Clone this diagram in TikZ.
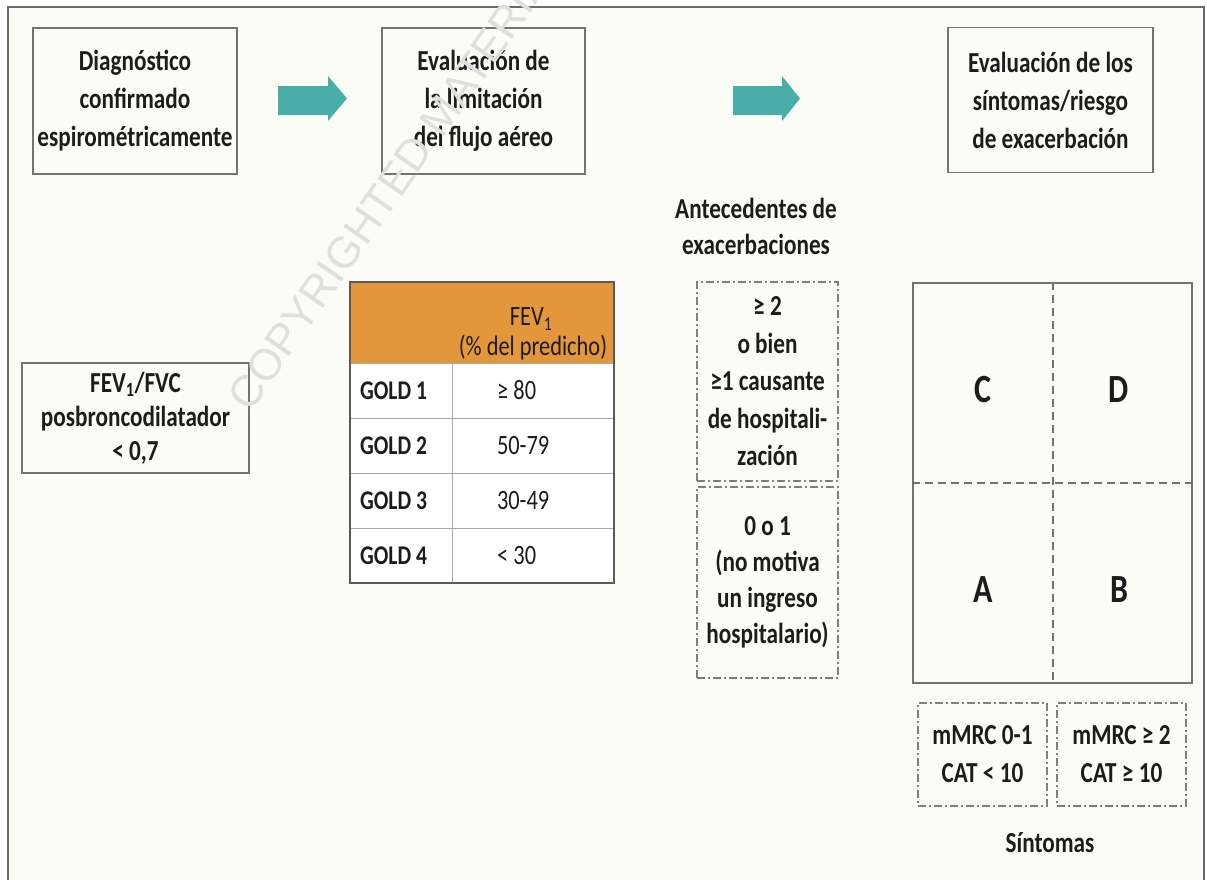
\documentclass[tikz,border=0pt]{standalone}
\usepackage{fontspec}
\setmainfont{Carlito}[FakeStretch=0.8]
\newfontfamily\wmfont{Liberation Sans}
\usetikzlibrary{calc}

\definecolor{framegray}{HTML}{6A6A6A}
\definecolor{boxgray}{HTML}{737373}
\definecolor{pagebg}{HTML}{FCFCF7}
\definecolor{arrowteal}{HTML}{4AAEA8}
\definecolor{headorange}{HTML}{E3963A}
\definecolor{inkdark}{HTML}{1C1C1C}
\definecolor{rulegray}{HTML}{A8A8A8}
\definecolor{tableedge}{HTML}{5A5A5A}
\definecolor{dashgray}{HTML}{7E7E7E}

% tighter gap before a narrow tabular digit or symbol
\newcommand{\tgap}{\hspace{-4pt} }

\tikzset{
  boldtxt/.style={font=\fontsize{29}{38}\selectfont\bfseries, text=inkdark, align=center},
  stagebox/.style={boldtxt, draw=boxgray, line width=1.8pt, inner sep=0pt},
  dashdotbox/.style={boldtxt, draw=dashgray, line width=1.4pt, inner sep=0pt,
    dash pattern=on 8pt off 3pt on 2pt off 3pt},
  blockarrow/.style={fill=arrowteal},
  headcell/.style={fill=headorange, draw=none, inner sep=0pt},
  labelcell/.style={draw=rulegray, line width=0.9pt, fill=white, inner xsep=10pt, inner ysep=0pt,
    minimum width=102pt, text width=82pt, align=left,
    font=\fontsize{27}{30}\selectfont\bfseries, text=inkdark},
  valuecell/.style={draw=rulegray, line width=0.9pt, fill=white, inner xsep=45pt, inner ysep=0pt,
    minimum width=162pt, text width=72pt, align=left,
    font=\fontsize{28}{30}\selectfont, text=inkdark},
  quadletter/.style={font=\fontsize{40}{40}\selectfont\bfseries, text=inkdark},
  quadline/.style={draw=dashgray!90!black, line width=2pt, dash pattern=on 8pt off 5pt},
}

\begin{document}
\begin{tikzpicture}[x=1pt, y=-1pt]
  \useasboundingbox (0,0) rectangle (1207,879);
  \clip (0,0) rectangle (1207,879);
  \fill[white] (0,0) rectangle (1207,879);

  % page frame
  \fill[pagebg] (8,7) rectangle (1204,885);
  \draw[framegray, line width=2.5pt] (8,885) -- (8,7) -- (1204,7) -- (1204,885);

  % top row of stages
  \node[stagebox, minimum width=204pt, minimum height=146pt] (diag) at (135,101)
    {Diagnóstico\\confirmado\\espirométricamente};
  \node[stagebox, minimum width=203pt, minimum height=146pt] (flujo) at (483.5,101)
    {Evaluación de\\la limitación\\del flujo aéreo};
  \node[stagebox, minimum width=205pt, minimum height=145pt] (sint) at (1050.5,100)
    {Evaluación de los\\síntomas/riesgo\\de exacerbación};

  % block arrows between stages
  \coordinate (a1) at (278,100.5);
  \coordinate (a2) at (733,100.5);
  \fill[blockarrow] (a1) ++(0,-14.5) -- ++(50,0) -- ++(0,-10) -- ++(19,22.5)
    -- ++(-19,22.5) -- ++(0,-6) -- ++(-50,0) -- cycle;
  \fill[blockarrow] (a2) ++(0,-14.5) -- ++(49,0) -- ++(0,-10) -- ++(18,22.5)
    -- ++(-18,22.5) -- ++(0,-6) -- ++(-49,0) -- cycle;

  % spirometric criterion
  \node[stagebox, line width=1.6pt, minimum width=227pt, minimum height=110pt,
        font=\fontsize{29}{34}\selectfont\bfseries] (ratio) at (135.5,418)
    {FEV\textsubscript{1}/FVC\\posbroncodilatador\\< 0,7};

  % GOLD table
  \node[headcell, minimum width=264pt, minimum height=81pt] (thead) at (482,322.5) {};
  \node[font=\fontsize{28}{28}\selectfont, text=inkdark] (tfev) at (531,319) {FEV\textsubscript{1}};
  \node[font=\fontsize{28}{28}\selectfont, text=inkdark] (tpred) at (533,348) {(\% del predicho)};

  \node[labelcell, minimum height=55pt] (g1) at (401,390.5) {\mbox{GOLD\tgap 1}};
  \node[labelcell, minimum height=55pt] (g2) at (401,445.5) {\mbox{GOLD\tgap 2}};
  \node[labelcell, minimum height=55pt] (g3) at (401,500.5) {\mbox{GOLD\tgap 3}};
  \node[labelcell, minimum height=55pt] (g4) at (401,555.5) {\mbox{GOLD\tgap 4}};
  \node[valuecell, minimum height=55pt] (v1) at (533,390.5) {\mbox{≥\tgap 80}};
  \node[valuecell, minimum height=55pt] (v2) at (533,445.5) {\mbox{50-79}};
  \node[valuecell, minimum height=55pt] (v3) at (533,500.5) {\mbox{30-49}};
  \node[valuecell, minimum height=55pt] (v4) at (533,555.5) {\mbox{<\tgap 30}};
  \draw[tableedge, line width=2pt] (thead.north west) rectangle (v4.south east);

  % exacerbation history
  \node[boldtxt, font=\fontsize{29}{36}\selectfont\bfseries] (antec) at (756,226)
    {Antecedentes de\\exacerbaciones};
  \node[dashdotbox, font=\fontsize{29}{37.5}\selectfont\bfseries,
        minimum width=141pt, minimum height=199pt] (hi) at (767.5,381.5)
    {≥ 2\\o bien\\≥1 causante\\de hospitali-\\zación};
  \node[dashdotbox, font=\fontsize{29}{36}\selectfont\bfseries,
        minimum width=141pt, minimum height=191pt] (lo) at (767.5,582.5)
    {0 o 1\\(no motiva\\un ingreso\\hospitalario)};

  % ABCD grid
  \node[draw=boxgray, line width=1.8pt, minimum width=279pt, minimum height=400pt,
        inner sep=0pt] (grid) at (1052.5,483) {};
  \draw[quadline] (grid.north) -- (grid.south);
  \draw[quadline] (grid.west) -- (grid.east);
  \node[quadletter] (qC) at (983,390) {C};
  \node[quadletter] (qD) at (1119,390) {D};
  \node[quadletter] (qA) at (983,590) {A};
  \node[quadletter] (qB) at (1119,590) {B};

  % symptom scales
  \node[dashdotbox, minimum width=129pt, minimum height=103pt] (low) at (982.5,754.5)
    {mMRC 0-1\\CAT < 10};
  \node[dashdotbox, minimum width=129pt, minimum height=103pt] (high) at (1121.5,754.5)
    {mMRC ≥ 2\\CAT ≥ 10};
  \node[boldtxt] (symlab) at (1050,843) {Síntomas};

  % watermark
  \node[rotate=55, anchor=base west, inner sep=0pt,
        font=\wmfont\fontsize{44}{44}\selectfont, text=gray!25] (wm) at (250,414)
    {COPYRIGHTED MATERIAL};
\end{tikzpicture}
\end{document}
